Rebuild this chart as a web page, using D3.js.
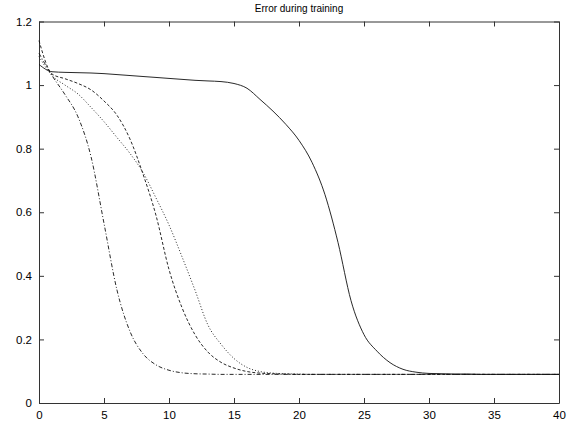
<!DOCTYPE html>
<html>
<head>
<meta charset="utf-8">
<script src="https://cdn.jsdelivr.net/npm/d3@7"></script>
<style>
  body { margin: 0; background: #fff; }
  text { font-family: "Liberation Sans", Arial, sans-serif; fill: #000; }
</style>
</head>
<body>
<div id="chart"></div>
<script>
// data: error per epoch, epochs 0..40
const epochs = d3.range(0, 41)
const solidErr = [1.065, 1.042, 1.040, 1.039, 1.038, 1.036, 1.033, 1.030, 1.027, 1.024, 1.021,
  1.018, 1.015, 1.013, 1.011, 1.005, 0.990, 0.955, 0.918, 0.876, 0.826,
  0.757, 0.655, 0.505, 0.322, 0.215, 0.163, 0.127, 0.106, 0.097, 0.093,
  0.092, 0.091, 0.091, 0.090, 0.090, 0.090, 0.090, 0.090, 0.090, 0.090]
const fastErr = [1.100, 1.030, 0.970, 0.900, 0.775, 0.565, 0.355, 0.225, 0.155, 0.120, 0.103,
  0.095, 0.092, 0.091, 0.090, 0.090, 0.090, 0.090, 0.090, 0.090, 0.090,
  0.090, 0.090, 0.090, 0.090, 0.090, 0.090, 0.090, 0.090, 0.090, 0.090,
  0.090, 0.090, 0.090, 0.090, 0.090, 0.090, 0.090, 0.090, 0.090, 0.090]
const dashedErr = [1.140, 1.035, 1.020, 1.005, 0.985, 0.950, 0.905, 0.830, 0.720, 0.590, 0.420,
  0.300, 0.215, 0.160, 0.128, 0.110, 0.099, 0.094, 0.092, 0.091, 0.090,
  0.090, 0.090, 0.090, 0.090, 0.090, 0.090, 0.090, 0.090, 0.090, 0.090,
  0.090, 0.090, 0.090, 0.090, 0.090, 0.090, 0.090, 0.090, 0.090, 0.090]
const dottedErr = [1.090, 1.030, 1.000, 0.972, 0.930, 0.885, 0.835, 0.785, 0.725, 0.645, 0.560,
  0.460, 0.355, 0.245, 0.185, 0.140, 0.112, 0.099, 0.094, 0.092, 0.091,
  0.090, 0.090, 0.090, 0.090, 0.090, 0.090, 0.090, 0.090, 0.090, 0.090,
  0.090, 0.090, 0.090, 0.090, 0.090, 0.090, 0.090, 0.090, 0.090, 0.090]
const xTicks = [0, 5, 10, 15, 20, 25, 30, 35, 40]
const yTicks = [0, 0.2, 0.4, 0.6, 0.8, 1, 1.2]
const title = "Error during training"

const series = [
  { values: solidErr, dash: null },
  { values: fastErr, dash: "4,2,1,2" },
  { values: dashedErr, dash: "3,2" },
  { values: dottedErr, dash: "1,2" }
]

const width = 571
const height = 428
const margin = { top: 21.5, right: 12, bottom: 25, left: 39 }

const svg = d3.select("#chart")
  .append("svg")
    .attr("width", width)
    .attr("height", height)

const x = d3.scaleLinear().domain([0, 40]).range([margin.left, width - margin.right])
const y = d3.scaleLinear().domain([0, 1.2]).range([height - margin.bottom, margin.top])

// title
svg.append("text")
  .attr("x", (margin.left + width - margin.right) / 2)
  .attr("y", 12)
  .attr("text-anchor", "middle")
  .style("font-size", "10px")
  .text(title)

// axes, gnuplot style: inward ticks on all sides
const axisStyle = g => {
  g.selectAll("path, line").attr("stroke", "#333")
  g.selectAll("text").style("font-size", "11.5px").attr("fill", "#000")
}
svg.append("g")
  .attr("transform", `translate(0,${y(0)})`)
  .call(d3.axisBottom(x).tickValues(xTicks).tickSizeInner(-5).tickSizeOuter(0).tickPadding(8))
  .call(axisStyle)
svg.append("g")
  .attr("transform", `translate(0,${y(1.2)})`)
  .call(d3.axisTop(x).tickValues(xTicks).tickSizeInner(-5).tickSizeOuter(0).tickFormat(""))
  .call(axisStyle)
svg.append("g")
  .attr("transform", `translate(${x(0)},0)`)
  .call(d3.axisLeft(y).tickValues(yTicks).tickSizeInner(-5).tickSizeOuter(0).tickPadding(7)
    .tickFormat(d => d3.format("")(+d.toFixed(1))))
  .call(axisStyle)
svg.append("g")
  .attr("transform", `translate(${x(40)},0)`)
  .call(d3.axisRight(y).tickValues(yTicks).tickSizeInner(-5).tickSizeOuter(0).tickFormat(""))
  .call(axisStyle)

// lines
const line = d3.line()
  .x((d, i) => x(epochs[i]))
  .y(d => y(d))
  .curve(d3.curveMonotoneX)

svg.append("g").selectAll("path")
  .data(series)
  .join("path")
    .attr("fill", "none")
    .attr("stroke", "#111")
    .attr("stroke-width", 0.9)
    .attr("stroke-dasharray", d => d.dash)
    .attr("d", d => line(d.values))
</script>
</body>
</html>
